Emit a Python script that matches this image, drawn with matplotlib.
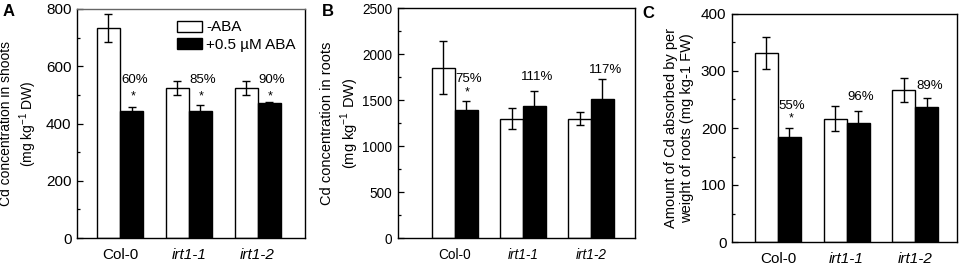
import matplotlib
matplotlib.use("Agg")
import matplotlib.pyplot as plt
import numpy as np
from matplotlib.ticker import MultipleLocator

plt.rcParams['font.family'] = ['Liberation Sans', 'DejaVu Sans']
plt.rcParams['mathtext.fontset'] = 'custom'
plt.rcParams['mathtext.rm'] = 'Liberation Sans'

genotypes = ["Col-0", "irt1-1", "irt1-2"]
series = ["-ABA", "+0.5 µM ABA"]

# Panel A: Cd in shoots
a_ctrl = [733, 523, 524]
a_ctrl_err = [48, 25, 25]
a_aba = [442, 445, 470]
a_aba_err = [17, 20, 4]
a_pct = ["60%", "85%", "90%"]
a_star = [True, True, True]
a_pct_y = [553, 553, 553]
a_star_y = [494, 494, 494]

# Panel B: Cd in roots
b_ctrl = [1848, 1296, 1298]
b_ctrl_err = [288, 114, 68]
b_aba = [1391, 1435, 1511]
b_aba_err = [95, 163, 214]
b_pct = ["75%", "111%", "117%"]
b_star = [True, False, False]
b_pct_y = [1725, 1750, 1823]
b_star_y = [1587, 0, 0]

# Panel C: Cd absorbed per root weight
c_ctrl = [332, 216, 267]
c_ctrl_err = [28, 22, 21]
c_aba = [184, 208, 237]
c_aba_err = [16, 22, 16]
c_pct = ["55%", "96%", "89%"]
c_star = [True, False, False]
c_pct_y = [239, 255, 274]
c_star_y = [217, 0, 0]

W, H = 964, 265
fig = plt.figure(figsize=(W / 100, H / 100), dpi=100)

def px_axes(l, r, t, b):
    return fig.add_axes([l / W, (H - b) / H, (r - l) / W, (b - t) / H])

axA = px_axes(77, 305, 9, 238)
axB = px_axes(398, 635, 8, 238)
axC = px_axes(732, 957, 14, 242)

bw = 0.335
x = np.arange(1, 4)

def panel(ax, ctrl, ctrl_err, aba, aba_err, pct, star, pct_y, star_y,
          ymax, major, minor, xlim, ylabel, letter, lx, ly, label_x, lab_fs, lab_ls,
          tick_fs=11, topcolor='black'):
    ax.bar(x - bw / 2, ctrl, bw, color='white', edgecolor='black', linewidth=1.0,
           yerr=ctrl_err, error_kw=dict(ecolor='black', elinewidth=1.0, capsize=2.8, capthick=1.0),
           label=series[0], zorder=2)
    ax.bar(x + bw / 2, aba, bw, color='black', edgecolor='black', linewidth=1.0,
           yerr=aba_err, error_kw=dict(ecolor='black', elinewidth=1.0, capsize=2.8, capthick=1.0),
           label=series[1], zorder=2)
    for i in range(3):
        ax.text(x[i] + bw / 2 + 0.04, pct_y[i], pct[i], ha='center', va='center', fontsize=9.5)
        if star[i]:
            ax.text(x[i] + bw / 2 + 0.02, star_y[i], "*", ha='center', va='center', fontsize=9)
    ax.set_ylim(0, ymax)
    ax.set_xlim(*xlim)
    ax.yaxis.set_major_locator(MultipleLocator(major))
    ax.yaxis.set_minor_locator(MultipleLocator(minor))
    ax.tick_params(axis='y', which='major', direction='in', length=4, width=0.9,
                   labelsize=tick_fs, pad=4)
    ax.tick_params(axis='y', which='minor', direction='in', length=2.5, width=0.9)
    ax.tick_params(axis='x', which='both', length=0, labelsize=tick_fs, pad=7)
    ax.set_xticks(x)
    ax.set_xticklabels(genotypes)
    for lbl in ax.get_xticklabels()[1:]:
        lbl.set_fontstyle('italic')
    for s in ax.spines.values():
        s.set_linewidth(1.0)
    ax.spines['top'].set_color(topcolor)
    ax.set_ylabel(ylabel, fontsize=lab_fs, linespacing=lab_ls)
    ax.yaxis.set_label_coords(label_x, 0.5)
    fig.text(lx / W, 1 - ly / H, letter, fontsize=12, fontweight='bold', ha='left', va='center')

panel(axA, a_ctrl, a_ctrl_err, a_aba, a_aba_err, a_pct, a_star, a_pct_y, a_star_y,
      800, 200, 100, (0.375, 3.69),
      "Cd concentration in shoots\n(mg kg$^{-1}$ DW)", "A", 3, 11,
      (39 - 77) / 228, 10, 1.3, tick_fs=11, topcolor='#666666')
panel(axB, b_ctrl, b_ctrl_err, b_aba, b_aba_err, b_pct, b_star, b_pct_y, b_star_y,
      2500, 500, 250, (0.165, 3.645),
      "Cd concentration in roots\n(mg kg$^{-1}$ DW)", "B", 322, 11,
      (361 - 398) / 237, 10.5, 1.3, tick_fs=9.8)
panel(axC, c_ctrl, c_ctrl_err, c_aba, c_aba_err, c_pct, c_star, c_pct_y, c_star_y,
      400, 100, 50, (0.33, 3.61),
      "Amount of Cd absorbed by per\nweight of roots (mg kg-1 FW)", "C", 642, 13,
      (694 - 732) / 225, 10.5, 1.2, tick_fs=11)

axA.legend(loc='upper right', bbox_to_anchor=(1.0, 0.99), frameon=False, fontsize=11,
           handlelength=1.65, handleheight=0.75, handletextpad=0.3, labelspacing=0.22,
           borderaxespad=0.2)

fig.savefig("out.png", dpi=100)
